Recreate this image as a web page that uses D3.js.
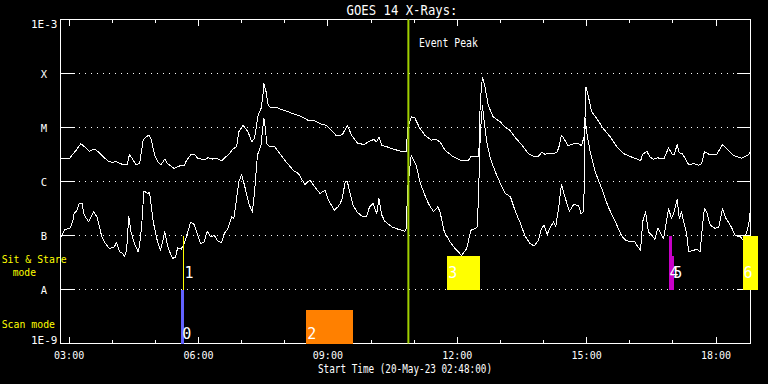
<!DOCTYPE html>
<html><head><meta charset="utf-8">
<script src="https://cdn.jsdelivr.net/npm/d3@7"></script>
<style>body{margin:0;background:#000}svg{display:block}</style>
</head><body><svg id="c" width="768" height="384"></svg>
<script>
const day = "2023-05-20";
const startTime = "02:48";
const endTime = "18:48";
const titleText = "GOES 14 X-Rays:";
const xTitle = "Start Time (20-May-23 02:48:00)";

const upperTimes = ["02:48","02:54","03:01","03:05","03:10","03:16","03:19","03:24","03:28","03:35","03:40","03:47","03:54","04:01","04:05","04:10","04:17","04:21","04:24","04:29","04:33","04:38","04:43","04:47","04:51","04:54","04:59","05:04","05:08","05:13","05:17","05:26","05:34","05:40","05:43","05:50","05:55","05:59","06:09","06:13","06:20","06:25","06:32","06:36","06:43","06:48","06:53","06:56","07:02","07:09","07:14","07:18","07:23","07:27","07:30","07:31","07:34","07:37","07:41","07:48","07:55","08:05","08:14","08:23","08:32","08:42","08:51","08:58","09:05","09:12","09:17","09:21","09:27","09:33","09:42","09:51","09:58","10:04","10:08","10:11","10:15","10:22","10:31","10:42","10:49","10:51","10:56","11:01","11:08","11:15","11:24","11:30","11:36","11:43","11:54","12:06","12:15","12:19","12:27","12:30","12:32","12:35","12:39","12:43","12:50","13:00","13:06","13:13","13:20","13:30","13:39","13:46","13:53","13:58","14:02","14:09","14:18","14:21","14:25","14:28","14:34","14:42","14:49","14:53","14:57","14:59","15:02","15:07","15:14","15:23","15:33","15:42","15:47","15:51","15:58","16:05","16:10","16:15","16:18","16:24","16:28","16:33","16:39","16:45","16:48","16:54","16:59","17:02","17:06","17:09","17:13","17:17","17:22","17:29","17:36","17:40","17:44","17:50","18:01","18:09","18:15","18:25","18:36","18:43","18:47","18:48"];
const upperFlux = [2.6e-6,2.7e-6,2.7e-6,3.2e-6,3.8e-6,5.0e-6,4.7e-6,4.1e-6,3.6e-6,4.0e-6,3.6e-6,2.9e-6,2.4e-6,2.25e-6,2.4e-6,2.15e-6,2.05e-6,2.05e-6,3.2e-6,2.5e-6,2.05e-6,2.15e-6,5.8e-6,6.7e-6,7.2e-6,6.1e-6,3.1e-6,2.25e-6,2.05e-6,2.6e-6,2.15e-6,1.75e-6,1.95e-6,1.95e-6,2.4e-6,3.2e-6,3.1e-6,2.7e-6,2.5e-6,2.75e-6,2.6e-6,2.7e-6,2.4e-6,2.7e-6,3.3e-6,4.0e-6,4.4e-6,8.3e-6,1.1e-5,8.3e-6,5.4e-6,6.3e-6,1.7e-5,2.25e-5,4.3e-5,6.5e-5,4.6e-5,2.6e-5,2.3e-5,2.4e-5,2.15e-5,1.95e-5,1.75e-5,1.6e-5,1.37e-5,1.33e-5,1.14e-5,1.1e-5,8.9e-6,7.0e-6,7.0e-6,7.7e-6,1.1e-5,7.2e-6,5.0e-6,4.9e-6,5.6e-6,6.0e-6,5.4e-6,6.7e-6,4.7e-6,4.4e-6,4.0e-6,3.6e-6,3.6e-6,9.6e-6,1.57e-5,1.5e-5,9.6e-6,7.2e-6,5.8e-6,6.1e-6,5.4e-6,3.8e-6,2.9e-6,2.4e-6,2.4e-6,2.9e-6,2.95e-6,2.95e-6,3.0e-5,8.6e-5,5.3e-5,2.6e-5,1.57e-5,1.27e-5,1.03e-5,8.9e-6,6.7e-6,4.7e-6,3.3e-6,2.95e-6,2.95e-6,3.5e-6,3.2e-6,3.3e-6,3.4e-6,4.1e-6,7.2e-6,6.4e-6,4.6e-6,5.0e-6,5.0e-6,4.6e-6,7.2e-6,5.6e-5,4.0e-5,1.95e-5,1.47e-5,9.6e-6,6.7e-6,4.4e-6,3.8e-6,3.3e-6,3.0e-6,2.75e-6,2.6e-6,2.4e-6,3.2e-6,3.6e-6,2.85e-6,2.6e-6,2.75e-6,2.6e-6,2.7e-6,4.2e-6,3.2e-6,3.2e-6,4.8e-6,3.4e-6,3.3e-6,2.7e-6,2.05e-6,2.15e-6,2.0e-6,2.15e-6,3.6e-6,3.2e-6,3.2e-6,4.8e-6,4.0e-6,3.0e-6,2.7e-6,3.0e-6,3.3e-6,4.1e-6];

const lowerTimes = ["02:48","02:54","03:01","03:05","03:07","03:11","03:14","03:18","03:21","03:27","03:30","03:34","03:39","03:45","03:49","03:56","04:03","04:06","04:10","04:15","04:17","04:20","04:23","04:26","04:31","04:36","04:38","04:41","04:44","04:49","04:52","04:57","05:03","05:07","05:11","05:13","05:18","05:24","05:28","05:31","05:36","05:40","05:43","05:49","05:54","05:59","06:03","06:08","06:12","06:17","06:22","06:27","06:32","06:36","06:41","06:46","06:49","06:53","06:56","07:00","07:04","07:10","07:15","07:18","07:22","07:27","07:28","07:31","07:33","07:35","07:39","07:46","07:53","08:02","08:12","08:19","08:28","08:35","08:42","08:49","08:56","09:01","09:09","09:14","09:17","09:20","09:24","09:27","09:31","09:35","09:41","09:49","09:54","09:58","10:03","10:08","10:11","10:15","10:19","10:29","10:38","10:47","10:49","10:51","10:56","10:59","11:03","11:08","11:14","11:20","11:27","11:33","11:36","11:42","11:50","11:57","12:06","12:13","12:19","12:25","12:28","12:30","12:32","12:35","12:37","12:41","12:46","12:53","13:00","13:07","13:14","13:21","13:27","13:34","13:41","13:47","13:53","13:57","14:01","14:05","14:09","14:14","14:17","14:21","14:25","14:29","14:36","14:42","14:49","14:52","14:56","14:58","15:00","15:05","15:12","15:21","15:30","15:40","15:47","15:49","15:54","16:01","16:07","16:10","16:15","16:18","16:22","16:26","16:31","16:35","16:39","16:42","16:47","16:51","16:54","16:58","17:01","17:06","17:09","17:12","17:15","17:19","17:22","17:29","17:33","17:38","17:41","17:44","17:47","17:52","17:59","18:04","18:09","18:14","18:20","18:27","18:34","18:38","18:43","18:46","18:48"];
const lowerFlux = [9.0e-8,1.3e-7,1.35e-7,1.8e-7,2.55e-7,2.95e-7,4.0e-7,3.9e-7,2.4e-7,1.8e-7,2.1e-7,2.75e-7,2.2e-7,1.0e-7,7.6e-8,5.7e-8,6.2e-8,7.4e-8,5.0e-8,4.6e-8,4.0e-8,5.3e-8,2.3e-7,1.17e-7,7.1e-8,5.0e-8,6.6e-8,1.55e-7,6.7e-7,6.0e-7,6.25e-7,1.8e-7,7.6e-8,5.3e-8,8.8e-8,1.17e-7,5.7e-8,3.75e-8,4.0e-8,5.9e-8,5.6e-8,7.1e-8,9.4e-8,1.75e-7,1.6e-7,1.0e-7,7.1e-8,7.6e-8,1.2e-7,9.4e-8,1.0e-7,7.9e-8,7.4e-8,1.1e-7,1.35e-7,2.2e-7,2.05e-7,4.8e-7,9.8e-7,1.35e-6,8.5e-7,3.9e-7,2.7e-7,6.4e-7,3.1e-6,4.7e-6,6.7e-6,1.5e-5,9.6e-6,5.0e-6,4.4e-6,4.4e-6,3.3e-6,2.3e-6,1.6e-6,1.4e-6,8.8e-7,1.06e-6,7.9e-7,6.0e-7,6.9e-7,4.5e-7,2.95e-7,3.4e-7,3.9e-7,4.8e-7,9.8e-7,1.0e-6,6.0e-7,3.6e-7,2.7e-7,2.2e-7,2.3e-7,3.4e-7,3.9e-7,2.55e-7,4.8e-7,2.4e-7,1.85e-7,1.45e-7,1.3e-7,1.2e-7,1.35e-7,7.4e-7,3.1e-6,2.5e-6,2.0e-6,9.8e-7,6.0e-7,3.9e-7,2.75e-7,3.4e-7,2.75e-7,1.17e-7,7.6e-8,5.7e-8,4.3e-8,5.7e-8,1.25e-7,1.35e-7,1.45e-7,8.5e-7,7.2e-6,2.6e-5,1.47e-5,5.4e-6,2.7e-6,1.5e-6,9.2e-7,6.0e-7,5.2e-7,2.75e-7,1.8e-7,1.0e-7,7.1e-8,6.4e-8,8.2e-8,1.35e-7,1.55e-7,1.04e-7,1.38e-7,1.8e-7,1.45e-7,3.2e-7,8.8e-7,5.6e-7,2.8e-7,3.75e-7,3.6e-7,2.55e-7,2.75e-7,1.47e-5,8.3e-6,3.5e-6,1.5e-6,7.4e-7,3.4e-7,1.8e-7,1.1e-7,9.8e-8,8.2e-8,7.6e-8,7.6e-8,6.6e-8,5.3e-8,1.8e-7,2.75e-7,1.17e-7,1.0e-7,8.5e-8,1.38e-7,1.17e-7,8.8e-8,1.8e-7,3.2e-7,2.05e-7,2.55e-7,4.7e-7,2.05e-7,2.75e-7,1.8e-7,1.1e-7,5.0e-8,5.3e-8,5.6e-8,5.0e-8,1.45e-7,3.2e-7,2.75e-7,1.55e-7,1.35e-7,1.45e-7,3.2e-7,2.05e-7,1.55e-7,1.0e-7,9.4e-8,8.2e-8,1.17e-7,1.8e-7,3.2e-7];

const levelValues = [1e-9,1e-8,1e-7,1e-6,1e-5,1e-4,1e-3];
const levelLabels = ["1E-9","A","B","C","M","X","1E-3"];
const tickLabels = ["03:00","06:00","09:00","12:00","15:00","18:00"];

const markerIds = ["0","1","2","3","4","5","6"];
const markerStart = ["05:36","05:39","08:30","11:46","16:54","16:59","18:37"];
const markerEnd   = ["05:40","05:39","09:35","12:32","16:59","17:02","18:59"];
const markerLow   = [1e-9,1e-8,1e-9,1e-8,1e-8,1e-8,1e-8];
const markerHigh  = [1e-8,1e-7,4.1e-9,4.1e-8,1e-7,4.1e-8,1e-7];
const markerColors = ["#6262ff","#ffff00","#ff8000","#ffff00","#c800c8","#c800c8","#ffff00"];
const eventPeakTime = "10:52";
const eventColor = "#a0d000";

const FONT = "'DejaVu Sans Mono', monospace";
const svg = d3.select("#c");
const parse = t => d3.timeParse("%Y-%m-%d %H:%M")(day + " " + t);
const x = d3.scaleTime().domain([parse(startTime), parse(endTime)]).range([60.5, 750.5]);
const y = d3.scaleLog().domain([1e-9, 1e-3]).range([343.5, 19.5]);

svg.append("rect").attr("width", 768).attr("height", 384).attr("fill", "#000");

// dotted grid lines
const gridLevels = levelValues.slice(1, -1);
svg.append("g").selectAll("line").data(gridLevels).join("line")
  .attr("x1", 74).attr("x2", 736)
  .attr("y1", d => y(d)).attr("y2", d => y(d))
  .attr("stroke", "#fff").attr("stroke-width", 1)
  .attr("stroke-dasharray", "1 5").attr("stroke-dashoffset", -5)
  .attr("shape-rendering", "crispEdges");

// axes
const hours = d3.timeHour.range(parse("03:00"), parse("18:30"));
const majors = tickLabels.map(parse);
function styleAxis(g) {
  g.select(".domain").remove();
  g.selectAll("line").attr("stroke", "#fff").attr("shape-rendering", "crispEdges");
  g.selectAll("text").attr("fill", "#fff").attr("font-family", FONT).attr("font-size", 10);
}
svg.append("g").attr("transform", "translate(0,343.5)")
  .call(d3.axisBottom(x).offset(0).tickValues(hours).tickSize(-3.5).tickSizeOuter(0).tickFormat(""))
  .call(styleAxis);
svg.append("g").attr("transform", "translate(0,343.5)")
  .call(d3.axisBottom(x).offset(0).tickValues(majors).tickSize(-6.5).tickSizeOuter(0).tickPadding(8)
    .tickFormat(d3.timeFormat("%H:%M")))
  .call(styleAxis);
svg.append("g").attr("transform", "translate(0,19.5)")
  .call(d3.axisTop(x).offset(0).tickValues(hours).tickSize(-3.5).tickSizeOuter(0).tickFormat(""))
  .call(styleAxis);
svg.append("g").attr("transform", "translate(0,19.5)")
  .call(d3.axisTop(x).offset(0).tickValues(majors).tickSize(-6.5).tickSizeOuter(0).tickFormat(""))
  .call(styleAxis);
svg.append("g").attr("transform", "translate(60.5,0)")
  .call(d3.axisLeft(y).offset(0).tickValues(gridLevels).tickSize(-14).tickSizeOuter(0).tickFormat(""))
  .call(styleAxis);
svg.append("g").attr("transform", "translate(750.5,0)")
  .call(d3.axisRight(y).offset(0).tickValues(gridLevels).tickSize(-14).tickSizeOuter(0).tickFormat(""))
  .call(styleAxis);

// frame
svg.append("rect").attr("x", x.range()[0]).attr("y", y.range()[1])
  .attr("width", x.range()[1] - x.range()[0]).attr("height", y.range()[0] - y.range()[1])
  .attr("fill", "none").attr("stroke", "#fff").attr("stroke-width", 1).attr("shape-rendering", "crispEdges");

// y labels
svg.append("g").selectAll("text").data(levelValues).join("text")
  .attr("x", (d, i) => (i === 0 || i === levelValues.length - 1) ? 57.5 : 44)
  .attr("y", (d, i) => i === 0 ? y(d) : (i === levelValues.length - 1 ? y(d) + 8 : y(d) + 4))
  .attr("text-anchor", (d, i) => (i === 0 || i === levelValues.length - 1) ? "end" : "middle")
  .attr("fill", "#fff").attr("font-family", FONT)
  .attr("font-size", (d, i) => (i === 0 || i === levelValues.length - 1) ? 11 : 10.5)
  .text((d, i) => levelLabels[i]);

// curves
const line = d3.line().x(d => x(d[0])).y(d => y(d[1]));
const upper = upperTimes.map((t, i) => [parse(t), upperFlux[i]]);
const lower = lowerTimes.map((t, i) => [parse(t), lowerFlux[i]]);
[upper, lower].forEach(data => {
  svg.append("path").datum(data).attr("d", line)
    .attr("fill", "none").attr("stroke", "#fff").attr("stroke-width", 1)
    .attr("stroke-linejoin", "round")
    .attr("shape-rendering", "crispEdges");
});

// markers
const markers = markerIds.map((id, i) => ({
  id, s: parse(markerStart[i]), e: parse(markerEnd[i]),
  lo: markerLow[i], hi: markerHigh[i], c: markerColors[i]
}));
svg.append("g").selectAll("rect").data(markers).join("rect")
  .attr("x", d => x(d.s))
  .attr("width", d => Math.max(1, x(d.e) - x(d.s)))
  .attr("y", d => y(d.hi))
  .attr("height", d => y(d.lo) - y(d.hi))
  .attr("fill", d => d.c)
  .attr("shape-rendering", "crispEdges");
svg.append("g").selectAll("text").data(markers).join("text")
  .attr("x", d => x(d.s) + 1)
  .attr("y", d => d.lo <= 1e-9 ? y(d.lo) - 5 : y(d.lo) - 11.5)
  .attr("fill", "#fff").attr("font-family", FONT).attr("font-size", 15)
  .text(d => d.id);

// event peak
const ex = x(parse(eventPeakTime));
svg.append("line").attr("x1", ex).attr("x2", ex).attr("y1", y.range()[1]).attr("y2", y.range()[0])
  .attr("stroke", eventColor).attr("stroke-width", 2);
svg.append("text").attr("x", ex + 10.5).attr("y", 46.5)
  .attr("fill", "#fff").attr("font-family", FONT).attr("font-size", 11.5)
  .attr("textLength", 59).attr("lengthAdjust", "spacingAndGlyphs").text("Event Peak");

// titles
svg.append("text").attr("x", 402).attr("y", 15).attr("text-anchor", "middle")
  .attr("fill", "#fff").attr("font-family", FONT).attr("font-size", 13.5)
  .attr("textLength", 111).attr("lengthAdjust", "spacingAndGlyphs").text(titleText);
svg.append("text").attr("x", 405).attr("y", 372.5).attr("text-anchor", "middle")
  .attr("fill", "#fff").attr("font-family", FONT).attr("font-size", 12)
  .attr("textLength", 174).attr("lengthAdjust", "spacingAndGlyphs").text(xTitle);

// mode labels
const modeText = [["Sit & Stare", 1.7, 263, 65], ["mode", 12.7, 275.5, 23.3], ["Scan mode", 1.7, 328, 53.3]];
svg.append("g").selectAll("text").data(modeText).join("text")
  .attr("x", d => d[1]).attr("y", d => d[2])
  .attr("fill", "#ffff00").attr("font-family", FONT).attr("font-size", 11)
  .attr("textLength", d => d[3]).attr("lengthAdjust", "spacingAndGlyphs")
  .text(d => d[0]);
</script>
</body></html>
